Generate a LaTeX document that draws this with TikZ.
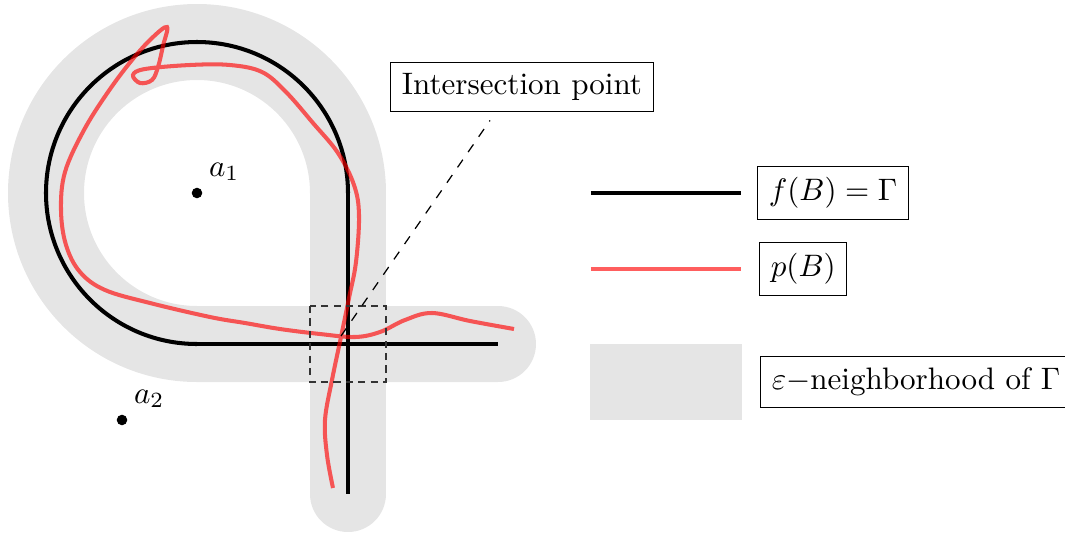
\documentclass[tikz,border=0pt]{standalone}
\usepackage{amsmath, amssymb}
\usepackage{tikz}
\usetikzlibrary{positioning, calc}
\usepackage{xcolor}
\definecolor{nbhdGray}{HTML}{E5E5E5}
\definecolor{pathRed}{HTML}{FF0000}

\begin{document}
\begin{tikzpicture}[
        x=0.322pt, y=-0.322pt,
        nbhd/.style={draw=nbhdGray, line width=76*0.322pt, line cap=round, line join=round},
        gammaLine/.style={draw=black, line width=1.3pt},
        pLine/.style={draw=pathRed, draw opacity=0.63, line width=1.3pt, line cap=butt},
        dot/.style={circle, fill=black, inner sep=0pt, minimum size=3.4pt},
        legendBox/.style={draw, thin, rectangle, inner sep=3.6pt},
        boxDash/.style={dashed, dash pattern=on 2.3pt off 1.7pt, draw=black!80, thin}
      ]
      \useasboundingbox (0,0) rectangle (1065,533);

      % --- EPSILON-VECINDAD ---
      \draw[nbhd] (348,193) arc[start angle=0, end angle=-270, radius=151] -- (498,344);
      \draw[nbhd] (348,193) -- (348,494);

      % --- CURVA GAMMA ---
      \draw[gammaLine] (348,193) arc[start angle=0, end angle=-270, radius=151];
      \draw[gammaLine] (197,344) -- (498,344);
      \draw[gammaLine] (348,193) -- (348,494);

      % --- CURVA p(B) ---
      \draw[pLine] plot[smooth, tension=0.6] coordinates {
        (514,329) (470,321) (432,313) (405,320) (380,332) (355,337)
        (320,334) (280,329) (245,323) (210,317) (150,303) (105,290)
        (80,272) (66,245) (61,210) (65,172) (84,130) (108,92)
        (132,60) (152,38) (167,27) (163,46) (158,67) (152,80)
        (140,83) (133,75) (145,69) (190,65) (230,65) (262,72)
        (286,92) (313,123) (338,153) (354,185) (359,215) (356,262)
        (349,298) (341,337) (332,380) (325,420) (327,455) (333,488)};

      % --- PUNTOS ---
      \node[dot] (a1) at (197,193) {};
      \node[dot] (a2) at (122,420) {};
      \node[above right=-1pt and -1pt of a1] (a1lbl) {$a_1$};
      \node[above right=-1pt and -1pt of a2] (a2lbl) {$a_2$};

      % --- PUNTO DE INTERSECCION ---
      \draw[boxDash] (310,306) rectangle (386,382);
      \coordinate (ip) at (341,336);
      \node[legendBox] (iplabel) at (522,87) {Intersection point};
      \coordinate (ipend) at ($(iplabel.south)+(-32,8)$);
      \draw[dashed, thin] (ip) -- (ipend);

      % --- LEYENDA ---
      \coordinate (gStart) at (591,193);
      \coordinate (gEnd) at (741,193);
      \draw[gammaLine] (gStart) -- (gEnd);
      \node[legendBox, right=16 of gEnd] (gLbl) {$f(B)=\Gamma$};

      \coordinate (pStart) at (591,269);
      \coordinate (pEnd) at (741,269);
      \draw[pLine] (pStart) -- (pEnd);
      \node[legendBox, right=18 of pEnd] (pLbl) {$p(B)$};

      \fill[nbhdGray] (590,344) rectangle (742,420);
      \coordinate (nEnd) at (742,382);
      \node[legendBox, right=18 of nEnd] (nLbl) {$\varepsilon-$neighborhood of $\Gamma$};

    \end{tikzpicture}
\end{document}
